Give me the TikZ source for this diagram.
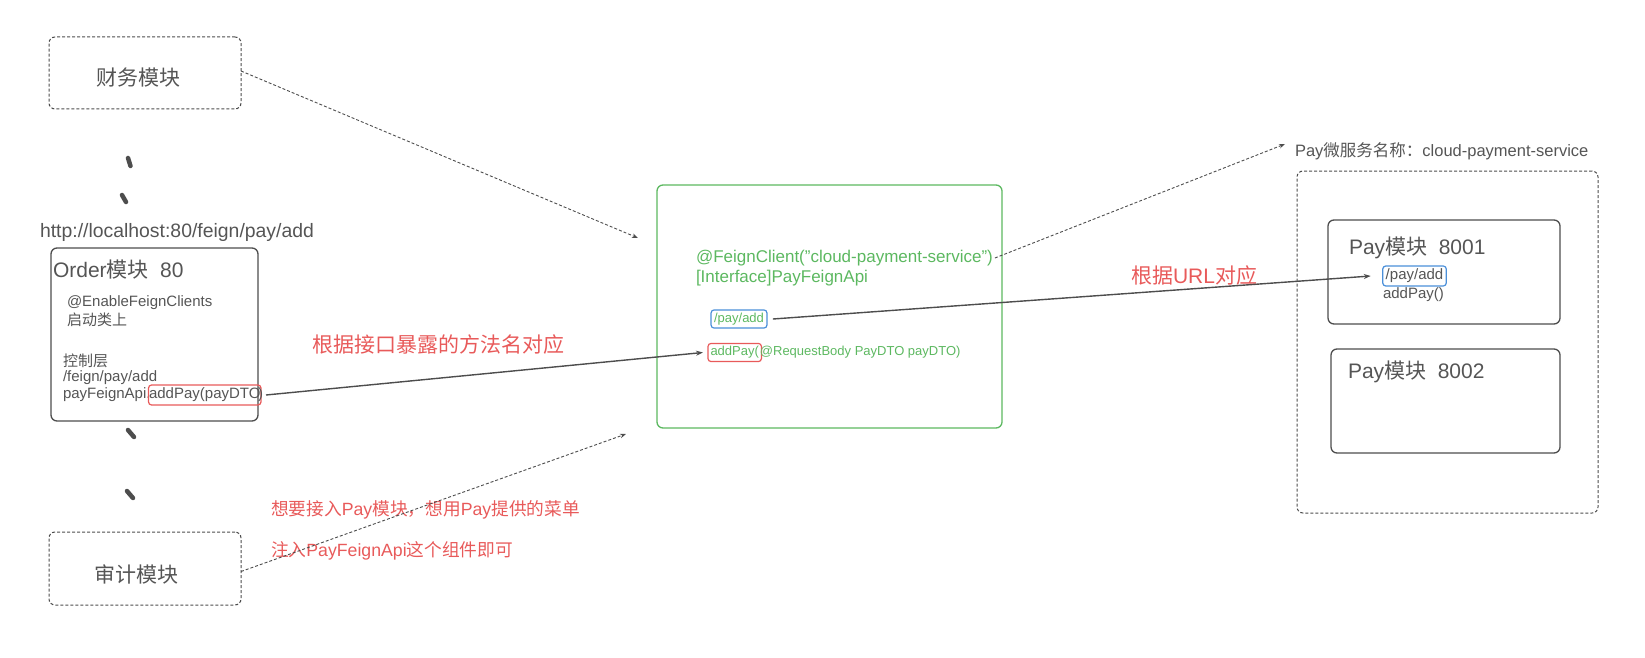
\documentclass[tikz,border=0pt]{standalone}
\usepackage{fontspec}
\setmainfont{Liberation Sans}
\newfontfamily\cjk{Noto Sans CJK SC}
\usetikzlibrary{arrows.meta}
\definecolor{txtgray}{HTML}{555555}
\definecolor{boxgray}{HTML}{4D4D4D}
\definecolor{gr}{HTML}{5CB860}
\definecolor{rd}{HTML}{E85A5A}
\definecolor{bl}{HTML}{4A8FD9}
\newcommand{\setfs}[1]{\fontsize{#1}{#1}\selectfont}
\begin{document}
\begin{tikzpicture}[x=1pt,y=-1pt,
  every node/.style={inner sep=0pt, outer sep=0pt, text=txtgray},
  solidbox/.style={draw=boxgray, line width=1.3pt, rounded corners=6pt},
  dashbox/.style={draw=boxgray, line width=1pt, dash pattern=on 3pt off 2pt, rounded corners=6pt},
  greenbox/.style={draw=gr, line width=1.3pt, rounded corners=6pt},
  redtag/.style={draw=rd, line width=1.2pt, rounded corners=3pt, inner xsep=2.5pt, inner ysep=3pt},
  bluetag/.style={draw=bl, line width=1.2pt, rounded corners=3pt, inner xsep=3pt, inner ysep=3pt},
  lbl/.style={anchor=west},
  redlbl/.style={anchor=west, text=rd},
  grlbl/.style={anchor=west, text=gr},
  solidarrow/.style={draw=boxgray, line width=1.4pt, -{Stealth[length=7pt,width=5pt]}},
  dasharrow/.style={draw=boxgray, line width=0.9pt, dash pattern=on 3pt off 2pt, -{Stealth[length=6pt,width=4.5pt]}},
  blob/.style={draw=boxgray, line width=4.5pt, line cap=round}
]
\useasboundingbox (0,0) rectangle (1645,658);

% left column
\node[dashbox, minimum width=192pt, minimum height=72pt] (fin) at (145,73) {};
\node[font=\setfs{21}\cjk] (fintxt) at (138,78) {财务模块};

\draw[blob] (128,158) -- (130.5,166);
\draw[blob] (122,195) -- (126,202);

\node[lbl, font=\setfs{19.4}] (url) at (40,232) {http://localhost:80/feign/pay/add};

\node[solidbox, minimum width=207pt, minimum height=173pt] (order) at (154.5,334.5) {};
\node[lbl, font=\setfs{21}] (ordtitle) at (53,270) {Order{\cjk 模块}\hspace{0.55em}80};
\node[lbl, font=\setfs{15}] (enable) at (67,303) {@EnableFeignClients};
\node[lbl, font=\setfs{15}\cjk] (qidong) at (67,320) {启动类上};
\node[lbl, font=\setfs{15}\cjk] (ctrl) at (63,361) {控制层};
\node[lbl, font=\setfs{15}] (fpath) at (63,378) {/feign/pay/add};
\node[lbl, font=\setfs{15}] (pfa) at (63,395) {payFeignApi.};
\node[redtag, inner xsep=0.5pt, anchor=west, font=\setfs{15}] (ordadd) at ([xshift=-2pt]pfa.east) {addPay(payDTO};
\node[lbl, font=\setfs{15}] (ordclose) at ([xshift=-3pt]ordadd.east) {)};

\draw[blob] (128,430) -- (134,437);
\draw[blob] (127,491) -- (133,498);

\node[dashbox, minimum width=192pt, minimum height=73pt] (aud) at (145,568.5) {};
\node[font=\setfs{21}\cjk] (audtxt) at (136,574) {审计模块};

% red notes
\node[redlbl, font=\setfs{21}\cjk] (note1) at (312,345) {根据接口暴露的方法名对应};
\node[redlbl, font=\setfs{17.7}] (note2) at (271,510) {{\cjk 想要接入}Pay{\cjk 模块，想用}Pay{\cjk 提供的菜单}};
\node[redlbl, font=\setfs{17.7}] (note3) at (271,551) {{\cjk 注入}PayFeignApi{\cjk 这个组件即可}};
\node[redlbl, font=\setfs{21}] (note4) at (1131,276) {{\cjk 根据}URL{\cjk 对应}};

% green feign box
\node[greenbox, minimum width=345pt, minimum height=243pt] (feignbox) at (829.5,306.5) {};
\node[grlbl, font=\setfs{17}] (feign) at (696,258) {@FeignClient("cloud-payment-service")};
\node[grlbl, font=\setfs{17}] (iface) at (696,278) {[Interface]PayFeignApi};
\node[bluetag, text=gr, font=\setfs{13}] (gpay) at (739,319) {/pay/add};
\node[redtag, text=gr, anchor=west, font=\setfs{13}] (gadd) at (708,352.5) {addPay(};
\node[grlbl, font=\setfs{13}] (greq) at ([xshift=-1.5pt]gadd.east) {@RequestBody PayDTO payDTO)};

% pay service
\node[lbl, font=\setfs{16.5}] (paysvc) at (1295,151) {Pay{\cjk 微服务名称：}cloud-payment-service};
\node[dashbox, minimum width=301pt, minimum height=342pt] (svcbox) at (1447.5,342) {};
\node[solidbox, minimum width=232pt, minimum height=104pt] (p1) at (1444,272) {};
\node[lbl, font=\setfs{21}] (p1t) at (1349,248) {Pay{\cjk 模块}\hspace{0.55em}8001};
\node[bluetag, font=\setfs{15}] (ppay) at (1414.5,276) {/pay/add};
\node[lbl, font=\setfs{15}] (padd) at (1383,295) {addPay()};
\node[solidbox, minimum width=229pt, minimum height=104pt] (p2) at (1445.5,401) {};
\node[lbl, font=\setfs{21}] (p2t) at (1348,372) {Pay{\cjk 模块}\hspace{0.55em}8002};

% free ends
\coordinate (finend) at (638,238);
\coordinate (audend) at (626,434);

% connectors
\draw[dasharrow] ([yshift=2pt]fin.east) -- (finend);
\draw[dasharrow] ([yshift=-3pt]aud.east) -- (audend);
\draw[solidarrow] ([xshift=5pt]ordadd.east) -- ([xshift=-5pt]gadd.west);
\draw[solidarrow] ([xshift=6pt]gpay.east) -- ([xshift=-12pt]ppay.west);
\draw[dasharrow] ([xshift=2pt]feign.east) -- ([xshift=-10pt,yshift=7pt]paysvc.west);
\end{tikzpicture}
\end{document}
